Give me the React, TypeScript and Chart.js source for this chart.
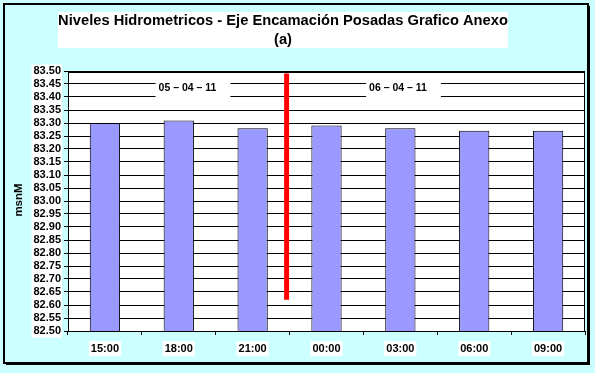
import React, { useEffect, useRef } from "react";
import { Chart, registerables } from "chart.js";

Chart.register(...registerables);

const categories = ["15:00", "18:00", "21:00", "00:00", "03:00", "06:00", "09:00"];
const levels = [83.30, 83.31, 83.28, 83.29, 83.28, 83.27, 83.27];
const yMin = 82.5;
const yMax = 83.5;
const yStep = 0.05;
const titleLines = ["Niveles Hidrometricos - Eje Encamación Posadas Grafico Anexo", "(a)"];
const yAxisLabel = "msnM";
const dateLabels = ["05 – 04 – 11", "06 – 04 – 11"];
const dateLabelX = [1.118, 3.968];
const dateLabelY = [83.435, 83.435];
const dividerX = 2.46;
const dividerTop = 83.49;
const dividerBottom = 82.62;

const W = 595;
const H = 373;
const FONT = "Arial, 'Liberation Sans'";

const decorPlugin = {
  id: "decor",
  beforeDraw(chart: any) {
    const ctx = chart.ctx;
    const a = chart.chartArea;
    ctx.save();
    ctx.fillStyle = "#CCFFFF";
    ctx.fillRect(0, 0, W, H);
    // frame
    ctx.strokeStyle = "#000";
    ctx.lineWidth = 2;
    ctx.strokeRect(4, 4, 584, 359);
    ctx.fillStyle = "#000";
    ctx.fillRect(588, 6, 2, 359);
    ctx.fillRect(6, 363, 584, 2);
    // title box
    ctx.fillStyle = "#fff";
    ctx.fillRect(58, 12, 450, 36);
    ctx.fillStyle = "#000";
    ctx.font = "bold 14.7px " + FONT;
    ctx.textAlign = "center";
    ctx.textBaseline = "middle";
    ctx.fillText(titleLines[0], 283, 21);
    ctx.fillText(titleLines[1], 283, 40);
    // y axis label
    ctx.save();
    ctx.translate(19, 200);
    ctx.rotate(-Math.PI / 2);
    ctx.font = "bold 11.5px " + FONT;
    ctx.fillText(yAxisLabel, 0, 0);
    ctx.restore();
    // plot bg
    ctx.fillStyle = "#fff";
    ctx.fillRect(a.left, a.top, a.right - a.left, a.bottom - a.top);
    ctx.restore();
  },
  afterDatasetsDraw(chart: any) {
    const ctx = chart.ctx;
    const xs = chart.scales.x;
    const ys = chart.scales.y;
    ctx.save();
    // date labels
    ctx.font = "bold 10.5px " + FONT;
    ctx.textBaseline = "middle";
    ctx.textAlign = "center";
    dateLabels.forEach((t, i) => {
      const cx = xs.getPixelForValue(dateLabelX[i]);
      const cy = ys.getPixelForValue(dateLabelY[i]);
      const w = ctx.measureText(t).width;
      ctx.fillStyle = "#fff";
      ctx.fillRect(cx - w / 2 - 3, cy - 10, w + 17, 22);
      ctx.fillStyle = "#000";
      ctx.fillText(t, cx, cy);
    });
    // red divider
    const x = xs.getPixelForValue(dividerX);
    ctx.strokeStyle = "#FF0000";
    ctx.lineWidth = 5;
    ctx.beginPath();
    ctx.moveTo(x, ys.getPixelForValue(dividerTop));
    ctx.lineTo(x, ys.getPixelForValue(dividerBottom));
    ctx.stroke();
    ctx.restore();
  },
  afterDraw(chart: any) {
    const ctx = chart.ctx;
    const a = chart.chartArea;
    ctx.save();
    ctx.strokeStyle = "#000";
    ctx.lineWidth = 1;
    ctx.strokeRect(a.left + 0.5, a.top + 0.5, a.right - a.left - 1, a.bottom - a.top);
    ctx.lineWidth = 2;
    ctx.beginPath();
    ctx.moveTo(a.left, a.top + 1);
    ctx.lineTo(a.right, a.top + 1);
    ctx.stroke();
    ctx.restore();
  },
};

export default function App() {
  const ref = useRef<HTMLCanvasElement>(null);
  useEffect(() => {
    const c = new Chart(ref.current!, {
      type: "bar",
      data: {
        labels: categories,
        datasets: [
          {
            data: levels,
            backgroundColor: "#9999FF",
            borderColor: "#000",
            borderWidth: 1,
            borderSkipped: false,
            barPercentage: 0.41,
            categoryPercentage: 1,
          },
        ],
      },
      options: {
        responsive: false,
        animation: false,
        layout: { padding: { top: 71, right: 10, left: 0, bottom: 0 } },
        plugins: { legend: { display: false }, tooltip: { enabled: false }, title: { display: false } },
        scales: {
          x: {
            grid: { display: true, drawOnChartArea: false, drawTicks: true, tickLength: 4, color: "#000", offset: true },
            border: { display: true, color: "#000" },
            ticks: {
              color: "#000",
              font: { family: FONT, size: 11, weight: "bold" },
              padding: 7,
              showLabelBackdrop: true,
              backdropColor: "#fff",
              backdropPadding: { top: 1, bottom: 1, left: 2, right: 2 },
              maxRotation: 0,
            },
            afterFit(s: any) {
              s.height = 42;
            },
          },
          y: {
            min: yMin,
            max: yMax,
            grid: { color: "#000", lineWidth: 1, tickLength: 4, drawTicks: true },
            border: { display: true, color: "#000" },
            ticks: {
              stepSize: yStep,
              autoSkip: false,
              color: "#000",
              font: { family: FONT, size: 11, weight: "bold" },
              padding: 3,
              showLabelBackdrop: true,
              backdropColor: "#fff",
              backdropPadding: { top: 0, bottom: 0, left: 2, right: 1 },
              callback: (v: any) => Number(v).toFixed(2),
            },
            afterFit(s: any) {
              s.width = 68;
            },
          },
        },
      },
      plugins: [decorPlugin],
    } as any);
    return () => c.destroy();
  }, []);
  return (
    <div style={{ position: "fixed", left: 0, top: 0, width: W, height: H }}>
      <canvas ref={ref} width={W} height={H} style={{ display: "block" }} />
    </div>
  );
}
